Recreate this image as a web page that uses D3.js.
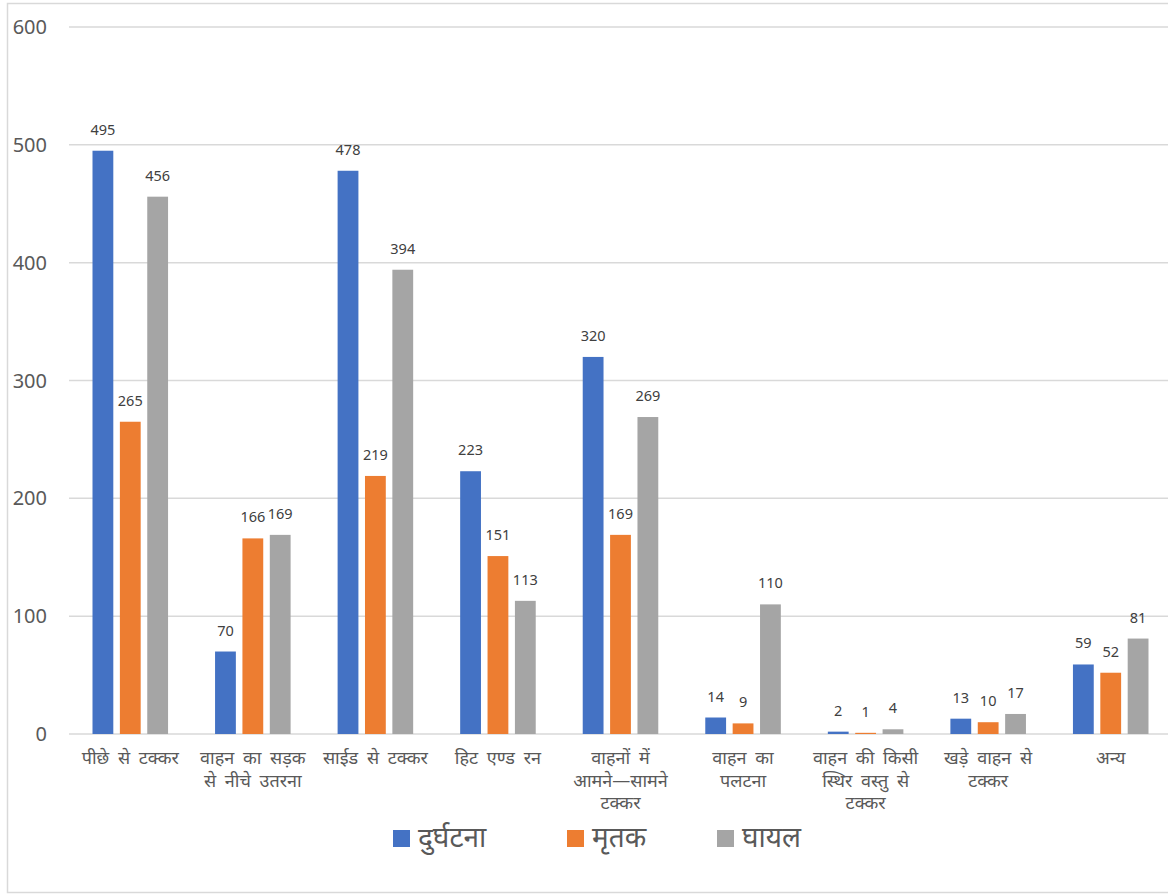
<!DOCTYPE html>
<html>
<head>
<meta charset="utf-8">
<script src="https://cdn.jsdelivr.net/npm/d3@7"></script>
<style>
  body { margin: 0; background: #fff; }
  text { font-family: "Noto Sans", "Noto Sans Devanagari", "Open Sans", sans-serif; fill: #595959; }
</style>
</head>
<body>
<svg width="1168" height="895"></svg>
<script>
// श्रेणियाँ (हर पंक्ति अलग)
const categories = [
  ["पीछे से टक्कर"],
  ["वाहन का सड़क", "से नीचे उतरना"],
  ["साईड से टक्कर"],
  ["हिट एण्ड रन"],
  ["वाहनों में", "आमने—सामने", "टक्कर"],
  ["वाहन का", "पलटना"],
  ["वाहन की किसी", "स्थिर वस्तु से", "टक्कर"],
  ["खड़े वाहन से", "टक्कर"],
  ["अन्य"]
];
const seriesNames = ["दुर्घटना", "मृतक", "घायल"];
const accidents = [495, 70, 478, 223, 320, 14, 2, 13, 59];
const deaths    = [265, 166, 219, 151, 169, 9, 1, 10, 52];
const injured   = [456, 169, 394, 113, 269, 110, 4, 17, 81];
const yTicks = [0, 100, 200, 300, 400, 500, 600];
const colors = ["#4472C4", "#ED7D31", "#A5A5A5"];

const series = [accidents, deaths, injured];

const svg = d3.select("svg");

// बाहरी फ्रेम
svg.append("rect")
  .attr("x", 7.5).attr("y", 3.5)
  .attr("width", 1170).attr("height", 889)
  .attr("fill", "none")
  .attr("stroke", "#d9d9d9")
  .attr("stroke-width", 1.5);

const y = d3.scaleLinear().domain([0, 600]).range([734, 27]);

const x0 = d3.scaleBand()
  .domain(d3.range(categories.length))
  .range([69, 1172])
  .padding(0);

const x1 = d3.scaleBand()
  .domain(d3.range(series.length))
  .range([23.5, x0.bandwidth() - 23.5])
  .paddingInner(0.24)
  .paddingOuter(0);

// ग्रिड लाइनें
svg.append("g")
  .selectAll("line")
  .data(yTicks)
  .join("line")
  .attr("x1", 69).attr("x2", 1172)
  .attr("y1", d => y(d)).attr("y2", d => y(d))
  .attr("stroke", "#d9d9d9")
  .attr("stroke-width", 1.5);

// y अक्ष लेबल
svg.append("g")
  .selectAll("text")
  .data(yTicks)
  .join("text")
  .attr("x", 47)
  .attr("y", d => y(d) + 7)
  .attr("text-anchor", "end")
  .attr("font-size", 20)
  .text(d => d);

// बार
const groups = svg.append("g")
  .selectAll("g")
  .data(categories.map((c, i) => i))
  .join("g")
  .attr("transform", i => `translate(${x0(i)},0)`);

groups.selectAll("rect")
  .data(i => series.map((s, k) => ({k, v: s[i]})))
  .join("rect")
  .attr("x", d => x1(d.k))
  .attr("width", x1.bandwidth())
  .attr("y", d => y(d.v))
  .attr("height", d => y(0) - y(d.v))
  .attr("fill", d => colors[d.k]);

groups.selectAll("text.val")
  .data(i => series.map((s, k) => ({k, v: s[i]})))
  .join("text")
  .attr("class", "val")
  .attr("x", d => x1(d.k) + x1.bandwidth() / 2)
  .attr("y", d => y(d.v) - 16)
  .attr("text-anchor", "middle")
  .attr("font-size", 14.5)
  .style("fill", "#404040")
  .text(d => d.v);

// श्रेणी लेबल
const catLabels = svg.append("g")
  .selectAll("text")
  .data(categories)
  .join("text")
  .attr("x", (d, i) => x0(i) + x0.bandwidth() / 2)
  .attr("y", 764)
  .attr("text-anchor", "middle")
  .attr("font-size", 18)
  .attr("word-spacing", 4);

catLabels.selectAll("tspan")
  .data(d => d)
  .join("tspan")
  .attr("x", function() { return this.parentNode.getAttribute("x"); })
  .attr("dy", (d, j) => j === 0 ? 0 : 22.5)
  .text(d => d);

// लेजेंड
const legendX = [393, 567, 717];
const legend = svg.append("g")
  .selectAll("g")
  .data(seriesNames)
  .join("g")
  .attr("transform", (d, i) => `translate(${legendX[i]},830)`);

legend.append("rect")
  .attr("width", 17).attr("height", 17)
  .attr("fill", (d, i) => colors[i]);

legend.append("text")
  .attr("x", 25)
  .attr("y", 17)
  .attr("font-size", 28)
  .text(d => d);
</script>
</body>
</html>
